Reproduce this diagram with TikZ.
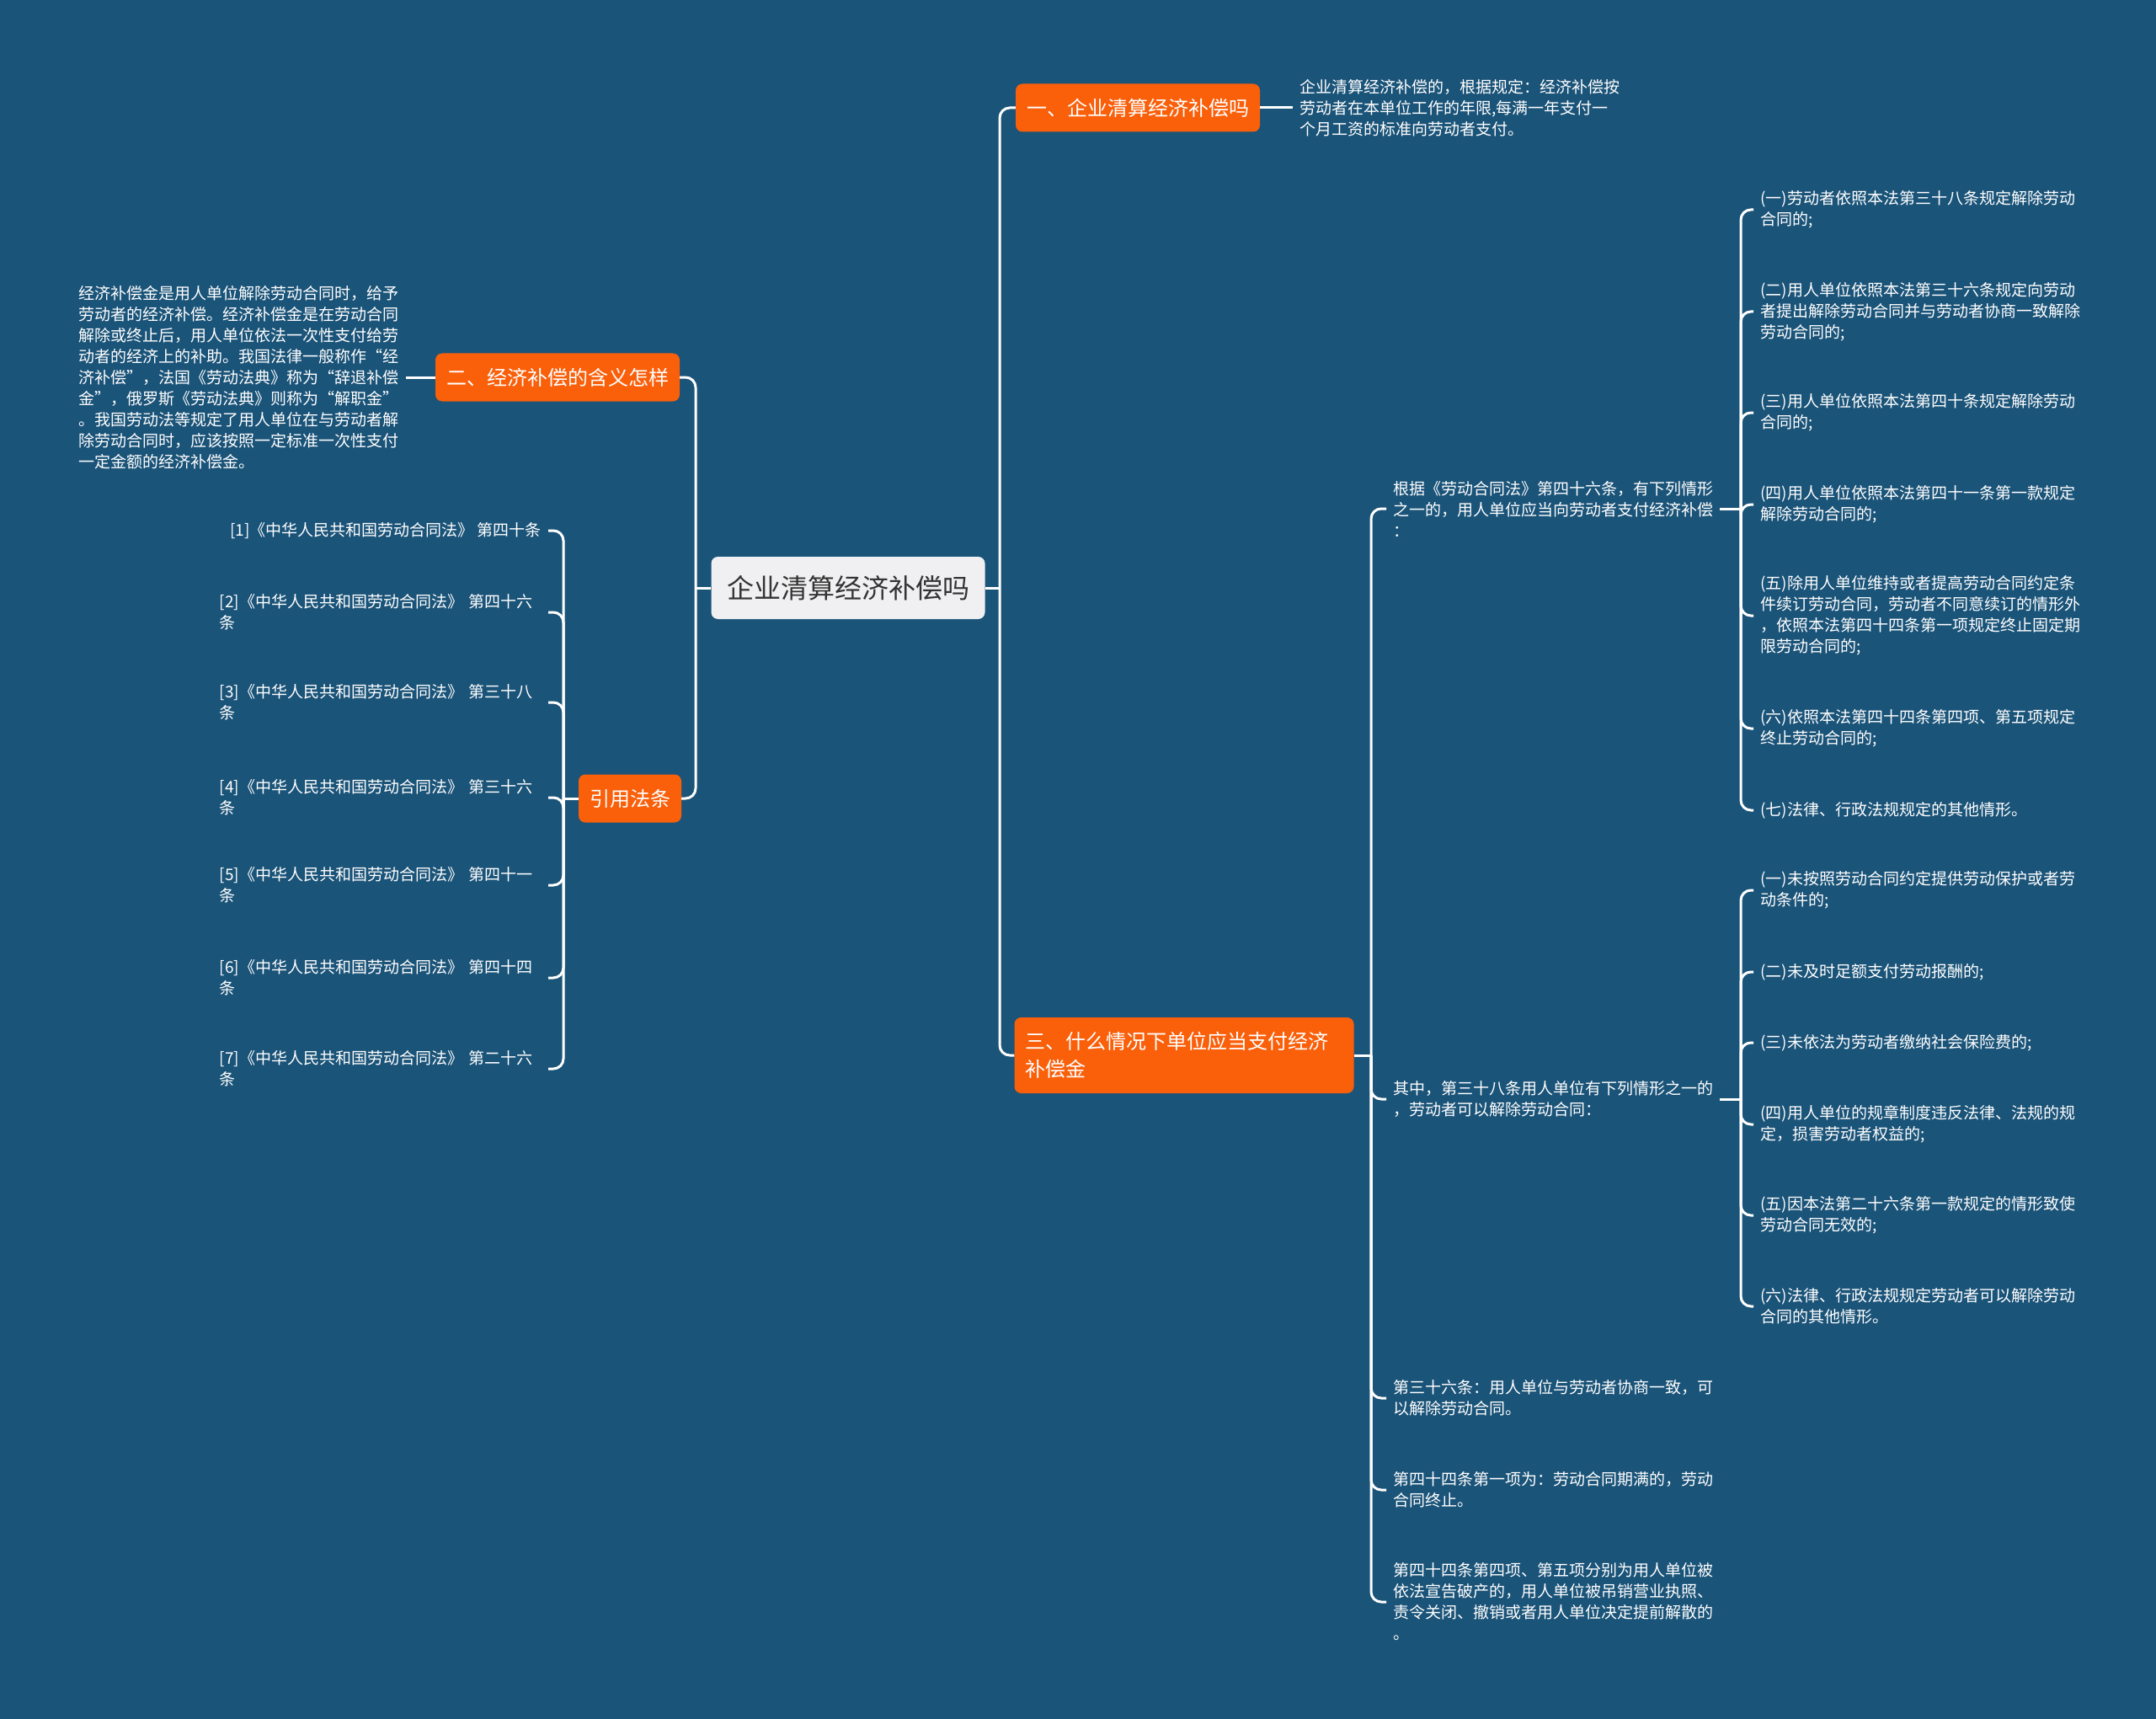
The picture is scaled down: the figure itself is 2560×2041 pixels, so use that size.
\documentclass[tikz,border=0pt]{standalone}
\usepackage{fontspec}
\newfontfamily\cjk{Noto Sans CJK SC}
\usepackage{xcolor}
\usepackage{tikz}

\definecolor{mapblue}{HTML}{1B5479}
\definecolor{topicorange}{HTML}{FA5F0A}
\definecolor{rootgray}{HTML}{F0F0F2}
\definecolor{rootink}{HTML}{333333}

\begin{document}
\begin{tikzpicture}[x=1pt, y=-1pt,
  root/.style={fill=rootgray, text=rootink, rounded corners=8pt,
               font=\cjk\fontsize{32}{38}\selectfont,
               minimum width=325pt, minimum height=74pt},
  topic/.style={fill=topicorange, text=white, rounded corners=8pt,
                font=\cjk\fontsize{24}{33}\selectfont,
                inner xsep=13pt, minimum height=57pt},
  leaf/.style={text=white, align=left, font=\cjk\fontsize{19}{25}\selectfont,
               inner xsep=8pt, inner ysep=2pt},
  law/.style={leaf, anchor=east, text width=382pt},
  link/.style={draw=white, line width=3pt, rounded corners=12pt}
]
\fill[mapblue] (0,0) rectangle (2560,2041);
\useasboundingbox (0,0) rectangle (2560,2041);

% centre and main topics
\node[root] (root) at (1007,698) {企业清算经济补偿吗};
\node[topic] (qingsuan) at (1351,128) {一、企业清算经济补偿吗};
\node[topic] (hanyi) at (662,448) {二、经济补偿的含义怎样};
\node[topic] (yinyong) at (748,948) {引用法条};
\node[topic, text width=377pt, align=left, minimum height=90pt] (qingkuang) at (1406,1253)
  {三、什么情况下单位应当支付经济\\补偿金};

% topic one
\node[leaf, anchor=west] (qingsuanText) at (1535,128)
  {企业清算经济补偿的，根据规定：经济补偿按\\劳动者在本单位工作的年限,每满一年支付一\\个月工资的标准向劳动者支付。};

% topic two
\node[leaf, anchor=east] (hanyiText) at (482,448)
  {经济补偿金是用人单位解除劳动合同时，给予\\劳动者的经济补偿。经济补偿金是在劳动合同\\解除或终止后，用人单位依法一次性支付给劳\\动者的经济上的补助。我国法律一般称作“经\\济补偿”，法国《劳动法典》称为“辞退补偿\\金”，俄罗斯《劳动法典》则称为“解职金”\\。我国劳动法等规定了用人单位在与劳动者解\\除劳动合同时，应该按照一定标准一次性支付\\一定金额的经济补偿金。};

% cited articles
\node[leaf, anchor=east] (fa1) at (651,630) {[1]《中华人民共和国劳动合同法》 第四十条};
\node[law] (fa2) at (651,727) {[2]《中华人民共和国劳动合同法》 第四十六\\条};
\node[law] (fa3) at (651,834) {[3]《中华人民共和国劳动合同法》 第三十八\\条};
\node[law] (fa4) at (651,947) {[4]《中华人民共和国劳动合同法》 第三十六\\条};
\node[law] (fa5) at (651,1051) {[5]《中华人民共和国劳动合同法》 第四十一\\条};
\node[law] (fa6) at (651,1161) {[6]《中华人民共和国劳动合同法》 第四十四\\条};
\node[law] (fa7) at (651,1269) {[7]《中华人民共和国劳动合同法》 第二十六\\条};

% topic three
\node[leaf, anchor=west] (tiao46) at (1646,604)
  {根据《劳动合同法》第四十六条，有下列情形\\之一的，用人单位应当向劳动者支付经济补偿\\：};
\node[leaf, anchor=west] (tiao38) at (1646,1305)
  {其中，第三十八条用人单位有下列情形之一的\\，劳动者可以解除劳动合同：};
\node[leaf, anchor=west] (tiao36) at (1646,1660)
  {第三十六条：用人单位与劳动者协商一致，可\\以解除劳动合同。};
\node[leaf, anchor=west] (tiao44a) at (1646,1769)
  {第四十四条第一项为：劳动合同期满的，劳动\\合同终止。};
\node[leaf, anchor=west] (tiao44b) at (1646,1902)
  {第四十四条第四项、第五项分别为用人单位被\\依法宣告破产的，用人单位被吊销营业执照、\\责令关闭、撤销或者用人单位决定提前解散的\\。};

% article 46 cases
\node[leaf, anchor=west] (a1) at (2082,249) {(一)劳动者依照本法第三十八条规定解除劳动\\合同的;};
\node[leaf, anchor=west] (a2) at (2082,370) {(二)用人单位依照本法第三十六条规定向劳动\\者提出解除劳动合同并与劳动者协商一致解除\\劳动合同的;};
\node[leaf, anchor=west] (a3) at (2082,490) {(三)用人单位依照本法第四十条规定解除劳动\\合同的;};
\node[leaf, anchor=west] (a4) at (2082,599) {(四)用人单位依照本法第四十一条第一款规定\\解除劳动合同的;};
\node[leaf, anchor=west] (a5) at (2082,731) {(五)除用人单位维持或者提高劳动合同约定条\\件续订劳动合同，劳动者不同意续订的情形外\\，依照本法第四十四条第一项规定终止固定期\\限劳动合同的;};
\node[leaf, anchor=west] (a6) at (2082,865) {(六)依照本法第四十四条第四项、第五项规定\\终止劳动合同的;};
\node[leaf, anchor=west] (a7) at (2082,962) {(七)法律、行政法规规定的其他情形。};

% article 38 cases
\node[leaf, anchor=west] (b1) at (2082,1057) {(一)未按照劳动合同约定提供劳动保护或者劳\\动条件的;};
\node[leaf, anchor=west] (b2) at (2082,1154) {(二)未及时足额支付劳动报酬的;};
\node[leaf, anchor=west] (b3) at (2082,1238) {(三)未依法为劳动者缴纳社会保险费的;};
\node[leaf, anchor=west] (b4) at (2082,1335) {(四)用人单位的规章制度违反法律、法规的规\\定，损害劳动者权益的;};
\node[leaf, anchor=west] (b5) at (2082,1443) {(五)因本法第二十六条第一款规定的情形致使\\劳动合同无效的;};
\node[leaf, anchor=west] (b6) at (2082,1551) {(六)法律、行政法规规定劳动者可以解除劳动\\合同的其他情形。};

% junctions
\coordinate (rootR) at (1187,698);
\coordinate (rootL) at (826,698);
\coordinate (faJ) at (669,948);
\coordinate (sanJ) at (1628,1253);
\coordinate (aJ) at (2067,604);
\coordinate (bJ) at (2067,1305);

% links
\draw[link] (root.east) -- (rootR);
\draw[link] (rootR) |- (qingsuan.west);
\draw[link] (rootR) |- (qingkuang.west);
\draw[link] (root.west) -- (rootL);
\draw[link] (rootL) |- (hanyi.east);
\draw[link] (rootL) |- (yinyong.east);
\draw[link] (qingsuan.east) -- (qingsuanText.west);
\draw[link] (hanyi.west) -- (hanyiText.east);

\draw[link] (yinyong.west) -- (faJ);
\draw[link] (faJ) |- (fa1.east);
\draw[link] (faJ) |- (fa2.east);
\draw[link] (faJ) |- (fa3.east);
\draw[link] (faJ) |- (fa4.east);
\draw[link] (faJ) |- (fa5.east);
\draw[link] (faJ) |- (fa6.east);
\draw[link] (faJ) |- (fa7.east);

\draw[link] (qingkuang.east) -- (sanJ);
\draw[link] (sanJ) |- (tiao46.west);
\draw[link] (sanJ) |- (tiao38.west);
\draw[link] (sanJ) |- (tiao36.west);
\draw[link] (sanJ) |- (tiao44a.west);
\draw[link] (sanJ) |- (tiao44b.west);

\draw[link] (tiao46.east) -- (aJ);
\draw[link] (aJ) |- (a1.west);
\draw[link] (aJ) |- (a2.west);
\draw[link] (aJ) |- (a3.west);
\draw[link] (aJ) |- (a4.west);
\draw[link] (aJ) |- (a5.west);
\draw[link] (aJ) |- (a6.west);
\draw[link] (aJ) |- (a7.west);

\draw[link] (tiao38.east) -- (bJ);
\draw[link] (bJ) |- (b1.west);
\draw[link] (bJ) |- (b2.west);
\draw[link] (bJ) |- (b3.west);
\draw[link] (bJ) |- (b4.west);
\draw[link] (bJ) |- (b5.west);
\draw[link] (bJ) |- (b6.west);
\end{tikzpicture}
\end{document}
